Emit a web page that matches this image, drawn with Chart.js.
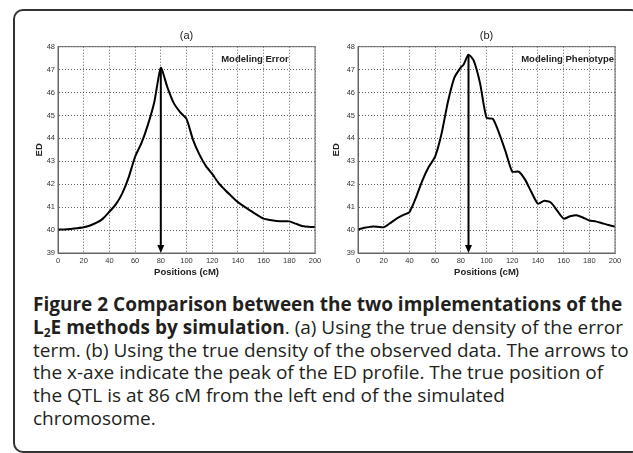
<!DOCTYPE html>
<html>
<head>
<meta charset="utf-8">
<script src="https://cdn.jsdelivr.net/npm/chart.js@4.4.1/dist/chart.umd.min.js"></script>
<style>
  body { margin: 0; background: #fff; width: 633px; height: 453px; overflow: hidden; position: relative; }
  #frame { position: absolute; left: 13px; top: 9px; width: 624px; height: 440px; border: 2px solid #333; border-radius: 10px; }
  canvas { position: absolute; top: 12px; }
  #plotA { left: 15px; }
  #plotB { left: 327px; }
  #caption { position: absolute; left: 33px; top: 293px; font-family: 'Open Sans', sans-serif; font-size: 19px;
             line-height: 22.8px; color: #231f20; white-space: nowrap; }
  #caption sub { font-size: 12px; vertical-align: -3px; line-height: 0; }
</style>
</head>
<body>
<div id="frame"></div>
<canvas id="plotA" width="312" height="276"></canvas>
<canvas id="plotB" width="306" height="276"></canvas>
<div id="caption"><b>Figure 2 Comparison between the two implementations of the</b><br><b>L<sub>2</sub>E methods by simulation</b>. (a) Using the true density of the error<br>term. (b) Using the true density of the observed data. The arrows to<br>the x-axe indicate the peak of the ED profile. The true position of<br>the QTL is at 86 cM from the left end of the simulated<br>chromosome.</div>
<script>
// tick values
var xTicks = [0, 20, 40, 60, 80, 100, 120, 140, 160, 180, 200];
var yTicks = [39, 40, 41, 42, 43, 44, 45, 46, 47, 48];

// (a) modeling error
var positionsA = [0, 5, 10, 15, 20, 25, 30, 35, 40, 45, 50, 55, 60, 65, 70, 75, 80, 85, 90, 95, 100,
  105, 110, 115, 120, 125, 130, 135, 140, 145, 150, 155, 160, 165, 170, 175, 180, 185, 190, 195, 200];
var edModelingError = [40.03, 40.03, 40.05, 40.08, 40.12, 40.2, 40.32, 40.5, 40.8, 41.12, 41.6, 42.3, 43.2,
  43.8, 44.6, 45.6, 47.08, 46.25, 45.55, 45.15, 44.85, 43.95, 43.3, 42.8, 42.45, 42.05, 41.75, 41.48, 41.22,
  41.02, 40.84, 40.66, 40.5, 40.44, 40.4, 40.38, 40.38, 40.28, 40.18, 40.14, 40.14];
var peakA = [80, 47.08];

// (b) modeling phenotype
var positionsB = [0, 5, 10, 15, 20, 25, 30, 35, 40, 45, 50, 55, 60, 65, 70, 75, 80, 82, 86, 90, 95, 100,
  105, 110, 115, 120, 125, 130, 135, 140, 145, 150, 155, 160, 165, 170, 175, 180, 185, 190, 195, 200];
var edModelingPhenotype = [40.03, 40.1, 40.15, 40.15, 40.12, 40.3, 40.5, 40.65, 40.78, 41.4, 42.15, 42.75,
  43.2, 44.2, 45.6, 46.65, 47.1, 47.2, 47.65, 47.4, 46.4, 44.9, 44.85, 44.2, 43.4, 42.55, 42.55, 42.2, 41.65,
  41.15, 41.28, 41.2, 40.85, 40.5, 40.6, 40.65, 40.55, 40.42, 40.38, 40.3, 40.22, 40.15];
var peakB = [86, 47.65];

var axisFont = 'Liberation Sans';

function plotChart(id, xs, ys, panel, note, peak, axisWidth, edPad, padRight) {
  var points = xs.map(function (x, i) { return {x: x, y: ys[i]}; });

  var overlay = {
    id: 'overlay',
    afterDatasetsDraw(chart) {
      var ctx = chart.ctx, a = chart.chartArea;
      var xs = chart.scales.x, ys = chart.scales.y;
      ctx.save();
      // matlab box
      ctx.strokeStyle = '#666';
      ctx.lineWidth = 1;
      ctx.strokeRect(a.left, a.top, a.right - a.left, a.bottom - a.top);
      // panel label
      ctx.fillStyle = '#222';
      ctx.font = '11px ' + axisFont;
      ctx.textAlign = 'center';
      ctx.textBaseline = 'middle';
      ctx.fillText(panel, (a.left + a.right) / 2, a.top - 10.7);
      // note in the corner
      ctx.font = 'bold 9.5px ' + axisFont;
      ctx.textAlign = 'left';
      ctx.fillText(note, xs.getPixelForValue(127), ys.getPixelForValue(47.45));
      // arrow from the peak down to the x axis
      var px = xs.getPixelForValue(peak[0]);
      var top = ys.getPixelForValue(peak[1]);
      var bottom = ys.getPixelForValue(39);
      ctx.strokeStyle = '#000';
      ctx.lineWidth = 2;
      ctx.beginPath();
      ctx.moveTo(px, top);
      ctx.lineTo(px, bottom - 7);
      ctx.stroke();
      ctx.fillStyle = '#000';
      ctx.beginPath();
      ctx.moveTo(px - 3.5, bottom - 8);
      ctx.lineTo(px + 3.5, bottom - 8);
      ctx.lineTo(px, bottom);
      ctx.closePath();
      ctx.fill();
      ctx.restore();
    }
  };

  return new Chart(document.getElementById(id), {
    type: 'line',
    data: {
      datasets: [{
        data: points,
        borderColor: '#000',
        borderWidth: 2,
        pointRadius: 0,
        tension: 0.2,
        fill: false
      }]
    },
    options: {
      responsive: false,
      animation: false,
      layout: { padding: { left: 0, right: padRight, top: 34.7, bottom: 0 } },
      plugins: {
        legend: { display: false },
        tooltip: { enabled: false },
        title: { display: false }
      },
      scales: {
        x: {
          type: 'linear',
          min: 0,
          max: 200,
          afterBuildTicks: function (s) { s.ticks = xTicks.map(function (v) { return {value: v}; }); },
          afterFit: function (s) { s.height = 35; },
          grid: { color: '#333', lineWidth: 0.8, drawTicks: false },
          border: { display: true, color: '#666', width: 1, dash: [1, 2] },
          ticks: { font: { family: axisFont, size: 7.5 }, color: '#333', padding: 3, maxRotation: 0, autoSkip: false },
          title: { display: true, text: 'Positions (cM)', color: '#222',
                   font: { family: axisFont, size: 9.5, weight: 'bold' }, padding: { top: 0, bottom: 10.3 } }
        },
        y: {
          min: 39,
          max: 48,
          afterBuildTicks: function (s) { s.ticks = yTicks.map(function (v) { return {value: v}; }); },
          afterFit: function (s) { s.width = axisWidth; },
          grid: { color: '#333', lineWidth: 0.8, drawTicks: false },
          border: { display: true, color: '#666', width: 1, dash: [1, 2] },
          ticks: { font: { family: axisFont, size: 7.5 }, color: '#333', padding: 3 },
          title: { display: true, text: 'ED', color: '#222',
                   font: { family: axisFont, size: 9.5, weight: 'bold' }, padding: { top: edPad, bottom: 0 } }
        }
      }
    },
    plugins: [overlay]
  });
}

plotChart('plotA', positionsA, edModelingError, '(a)', 'Modeling Error', peakA, 43, 18.3, 12);
plotChart('plotB', positionsB, edModelingPhenotype, '(b)', 'Modeling Phenotype', peakB, 31, 4, 18);
</script>
</body>
</html>
